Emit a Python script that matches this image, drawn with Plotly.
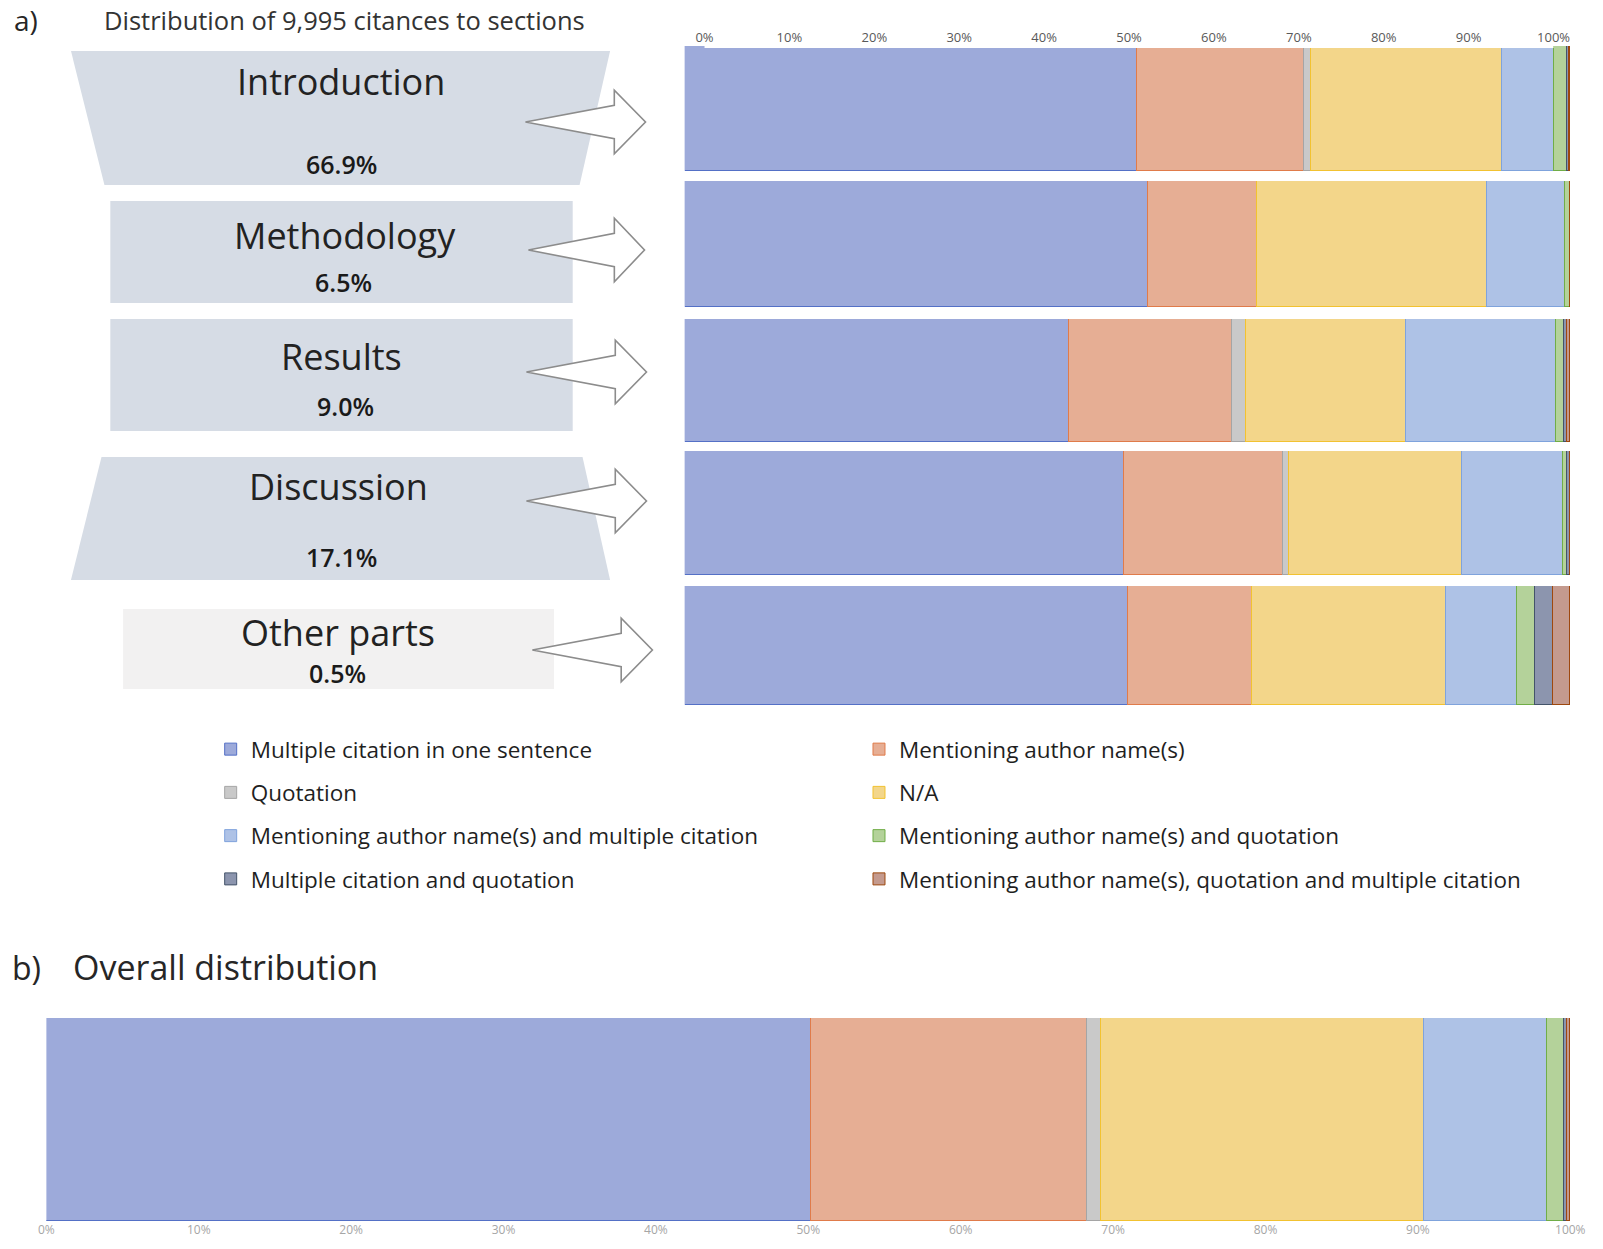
import plotly.graph_objects as go

W, H = 1603, 1249

# ---------------- data ----------------
sections = ["Introduction", "Methodology", "Results", "Discussion", "Other parts"]
section_share = [66.9, 6.5, 9.0, 17.1, 0.5]
total_citances = "9,995"

category_names = [
    "Multiple citation in one sentence",
    "Mentioning author name(s)",
    "Quotation",
    "N/A",
    "Mentioning author name(s) and multiple citation",
    "Mentioning author name(s) and quotation",
    "Multiple citation and quotation",
    "Mentioning author name(s), quotation and multiple citation",
]

# share (%) of each citation type within each section (order = sections)
multiple_citation = [51.1, 52.3, 43.4, 49.6, 50.0]
author_names = [18.8, 12.3, 18.4, 17.9, 14.0]
quotation = [0.85, 0.0, 1.6, 0.7, 0.0]
not_available = [21.5, 26.0, 18.0, 19.6, 22.0]
author_multiple = [5.95, 8.75, 17.0, 11.4, 8.0]
author_quotation = [1.45, 0.65, 0.85, 0.4, 2.0]
multiple_quotation = [0.15, 0.0, 0.4, 0.3, 2.0]
author_quotation_multiple = [0.2, 0.0, 0.35, 0.1, 2.0]

# overall distribution (order = category_names)
overall_values = [50.2, 18.1, 0.9, 21.2, 8.1, 1.1, 0.2, 0.2]

tick_values = [0, 10, 20, 30, 40, 50, 60, 70, 80, 90, 100]
tick_labels = ["0%", "10%", "20%", "30%", "40%", "50%", "60%", "70%", "80%", "90%", "100%"]

section_series = [multiple_citation, author_names, quotation, not_available,
                  author_multiple, author_quotation, multiple_quotation,
                  author_quotation_multiple]

# ---------------- styling ----------------
fill_colors = ["#9DAADA", "#E6AE94", "#C9C9C9", "#F3D68A",
               "#AEC2E6", "#B4D29A", "#8C95AE", "#C49A8E"]
line_colors = ["#5470C6", "#E07B4A", "#A5A5A5", "#F2C230",
               "#7FA3DC", "#70AD47", "#44546A", "#9E480E"]
FONT = "Open Sans"


def fx(px):
    return px / W


def fy(py):
    return 1 - py / H


bar_x = (687, 1587)
bar_rows = [(46, 171), (181, 307), (319, 442), (451, 575), (586, 705)]
overall_x = (38, 1587)
overall_y = (1018, 1221)

fig = go.Figure()

# section bars
for s_idx, sec in enumerate(sections):
    n = s_idx + 1
    xa = "x" if n == 1 else f"x{n}"
    ya = "y" if n == 1 else f"y{n}"
    for c_idx, name in enumerate(category_names):
        fig.add_trace(go.Bar(
            x=[section_series[c_idx][s_idx]], y=[sec], orientation="h",
            name=name, legendgroup=name, showlegend=False,
            marker=dict(color=fill_colors[c_idx],
                        line=dict(color=line_colors[c_idx], width=1)),
            xaxis=xa, yaxis=ya, hoverinfo="x+name",
        ))

# overall bar (carries the legend entries)
for c_idx, name in enumerate(category_names):
    fig.add_trace(go.Bar(
        x=[overall_values[c_idx]], y=["Overall"], orientation="h",
        name=name, legendgroup=name, showlegend=True,
        legend="legend" if c_idx % 2 == 0 else "legend2",
        marker=dict(color=fill_colors[c_idx],
                    line=dict(color=line_colors[c_idx], width=1)),
        xaxis="x6", yaxis="y6", hoverinfo="x+name",
    ))

# empty trace to host the top percentage scale
fig.add_trace(go.Scatter(x=[None], y=[None], xaxis="x7", yaxis="y7",
                         showlegend=False, hoverinfo="skip"))

layout = dict(
    width=W, height=H, autosize=False,
    margin=dict(l=0, r=0, t=0, b=0),
    paper_bgcolor="white", plot_bgcolor="white",
    barmode="stack", bargap=0,
    font=dict(family=FONT, color="#262626"),
)

for s_idx, (top, bot) in enumerate(bar_rows):
    n = s_idx + 1
    xk = "xaxis" if n == 1 else f"xaxis{n}"
    yk = "yaxis" if n == 1 else f"yaxis{n}"
    layout[xk] = dict(domain=[fx(bar_x[0]), fx(bar_x[1])], range=[0, 100],
                      visible=False, anchor="y" if n == 1 else f"y{n}",
                      fixedrange=True)
    layout[yk] = dict(domain=[fy(bot), fy(top)], visible=False,
                      anchor="x" if n == 1 else f"x{n}", fixedrange=True)

layout["xaxis6"] = dict(domain=[fx(overall_x[0]), fx(overall_x[1])], range=[0, 100],
                        anchor="y6", tickmode="array", tickvals=tick_values,
                        ticktext=tick_labels,
                        showgrid=False, zeroline=False, showline=False,
                        ticks="", tickfont=dict(size=12, color="#A6A6A6"),
                        fixedrange=True)
layout["yaxis6"] = dict(domain=[fy(overall_y[1]), fy(overall_y[0])],
                        visible=False, anchor="x6", fixedrange=True)

layout["xaxis7"] = dict(domain=[fx(707), fx(1570)], range=[0, 100], anchor="y7",
                        side="top", tickmode="array", tickvals=tick_values,
                        ticktext=tick_labels,
                        showgrid=False, zeroline=False, showline=False,
                        ticks="", tickfont=dict(size=13, color="#595959"),
                        fixedrange=True)
layout["yaxis7"] = dict(domain=[fy(48), fy(46)], visible=False, anchor="x7",
                        fixedrange=True)

legend_common = dict(orientation="v", traceorder="grouped", tracegroupgap=11,
                     font=dict(size=22.5, color="#1f1f1f", family=FONT),
                     bgcolor="rgba(0,0,0,0)", xanchor="left", yanchor="top",
                     itemclick=False, itemdoubleclick=False)
layout["legend"] = dict(x=fx(205), y=fy(728), **legend_common)
layout["legend2"] = dict(x=fx(864), y=fy(728), **legend_common)

# ---------------- left-hand diagram ----------------
shapes = []


def path(points):
    return "M " + " L ".join(f"{fx(px):.5f},{fy(py):.5f}" for px, py in points) + " Z"


box_fill = "#D6DCE5"
section_boxes = [
    [(63, 51), (611, 51), (580, 185), (97, 185)],          # Introduction (trapezoid)
    [(103, 201), (573, 201), (573, 303), (103, 303)],      # Methodology
    [(103, 319), (573, 319), (573, 431), (103, 431)],      # Results
    [(94, 457), (583, 457), (611, 580), (63, 580)],        # Discussion (trapezoid)
    [(116, 609), (554, 609), (554, 689), (116, 689)],      # Other parts
]
box_colors = [box_fill, box_fill, box_fill, box_fill, "#F2F1F1"]
for pts, col in zip(section_boxes, box_colors):
    shapes.append(dict(type="path", xref="paper", yref="paper", path=path(pts),
                       fillcolor=col, line=dict(width=0), layer="below"))

arrow_tails = [(525, 122, 122), (528, 250, 118), (526, 372, 122),
               (526, 501, 122), (532, 650, 122)]
for tx, ty, L in arrow_tails:
    hb = tx + L * 0.74
    pts = [(tx, ty), (hb, ty - 16.7), (hb, ty - 31.7), (tx + L, ty),
           (hb, ty + 31.7), (hb, ty + 16.7)]
    shapes.append(dict(type="path", xref="paper", yref="paper", path=path(pts),
                       fillcolor="white", line=dict(color="#8C8C8C", width=1.6),
                       layer="above"))

layout["shapes"] = shapes

annotations = []


def ann(text, x, y, size, xanchor="center", color="#262626", weight=None):
    f = dict(size=size, color=color, family=FONT)
    if weight:
        f["weight"] = weight
    annotations.append(dict(text=text, x=fx(x), y=fy(y), xref="paper", yref="paper",
                            xanchor=xanchor, yanchor="middle", showarrow=False,
                            font=f))


ann("a)", 3, 20, 28, xanchor="left")
ann(f"Distribution of {total_citances} citances to sections", 95, 20, 25.5,
    xanchor="left", color="#333333")

name_pos = [(337, 82), (342, 236), (338, 356), (335, 487), (334, 632)]
share_pos = [(338, 164), (340, 282), (342, 406), (338, 557), (334, 673)]
for sec, share, npos, spos in zip(sections, section_share, name_pos, share_pos):
    ann(sec, npos[0], npos[1], 36, color="#222222")
    ann(f"{share:.1f}%", spos[0], spos[1], 25, color="#1a1a1a", weight=600)

ann("b)", 1, 967, 32, xanchor="left")
ann("Overall distribution", 63, 967, 34, xanchor="left")

layout["annotations"] = annotations

fig.update_layout(**layout)
fig.write_html(
    "out.html",
    config={"displayModeBar": False},
    post_script="document.body.style.margin='0';document.body.style.overflow='hidden';",
)
